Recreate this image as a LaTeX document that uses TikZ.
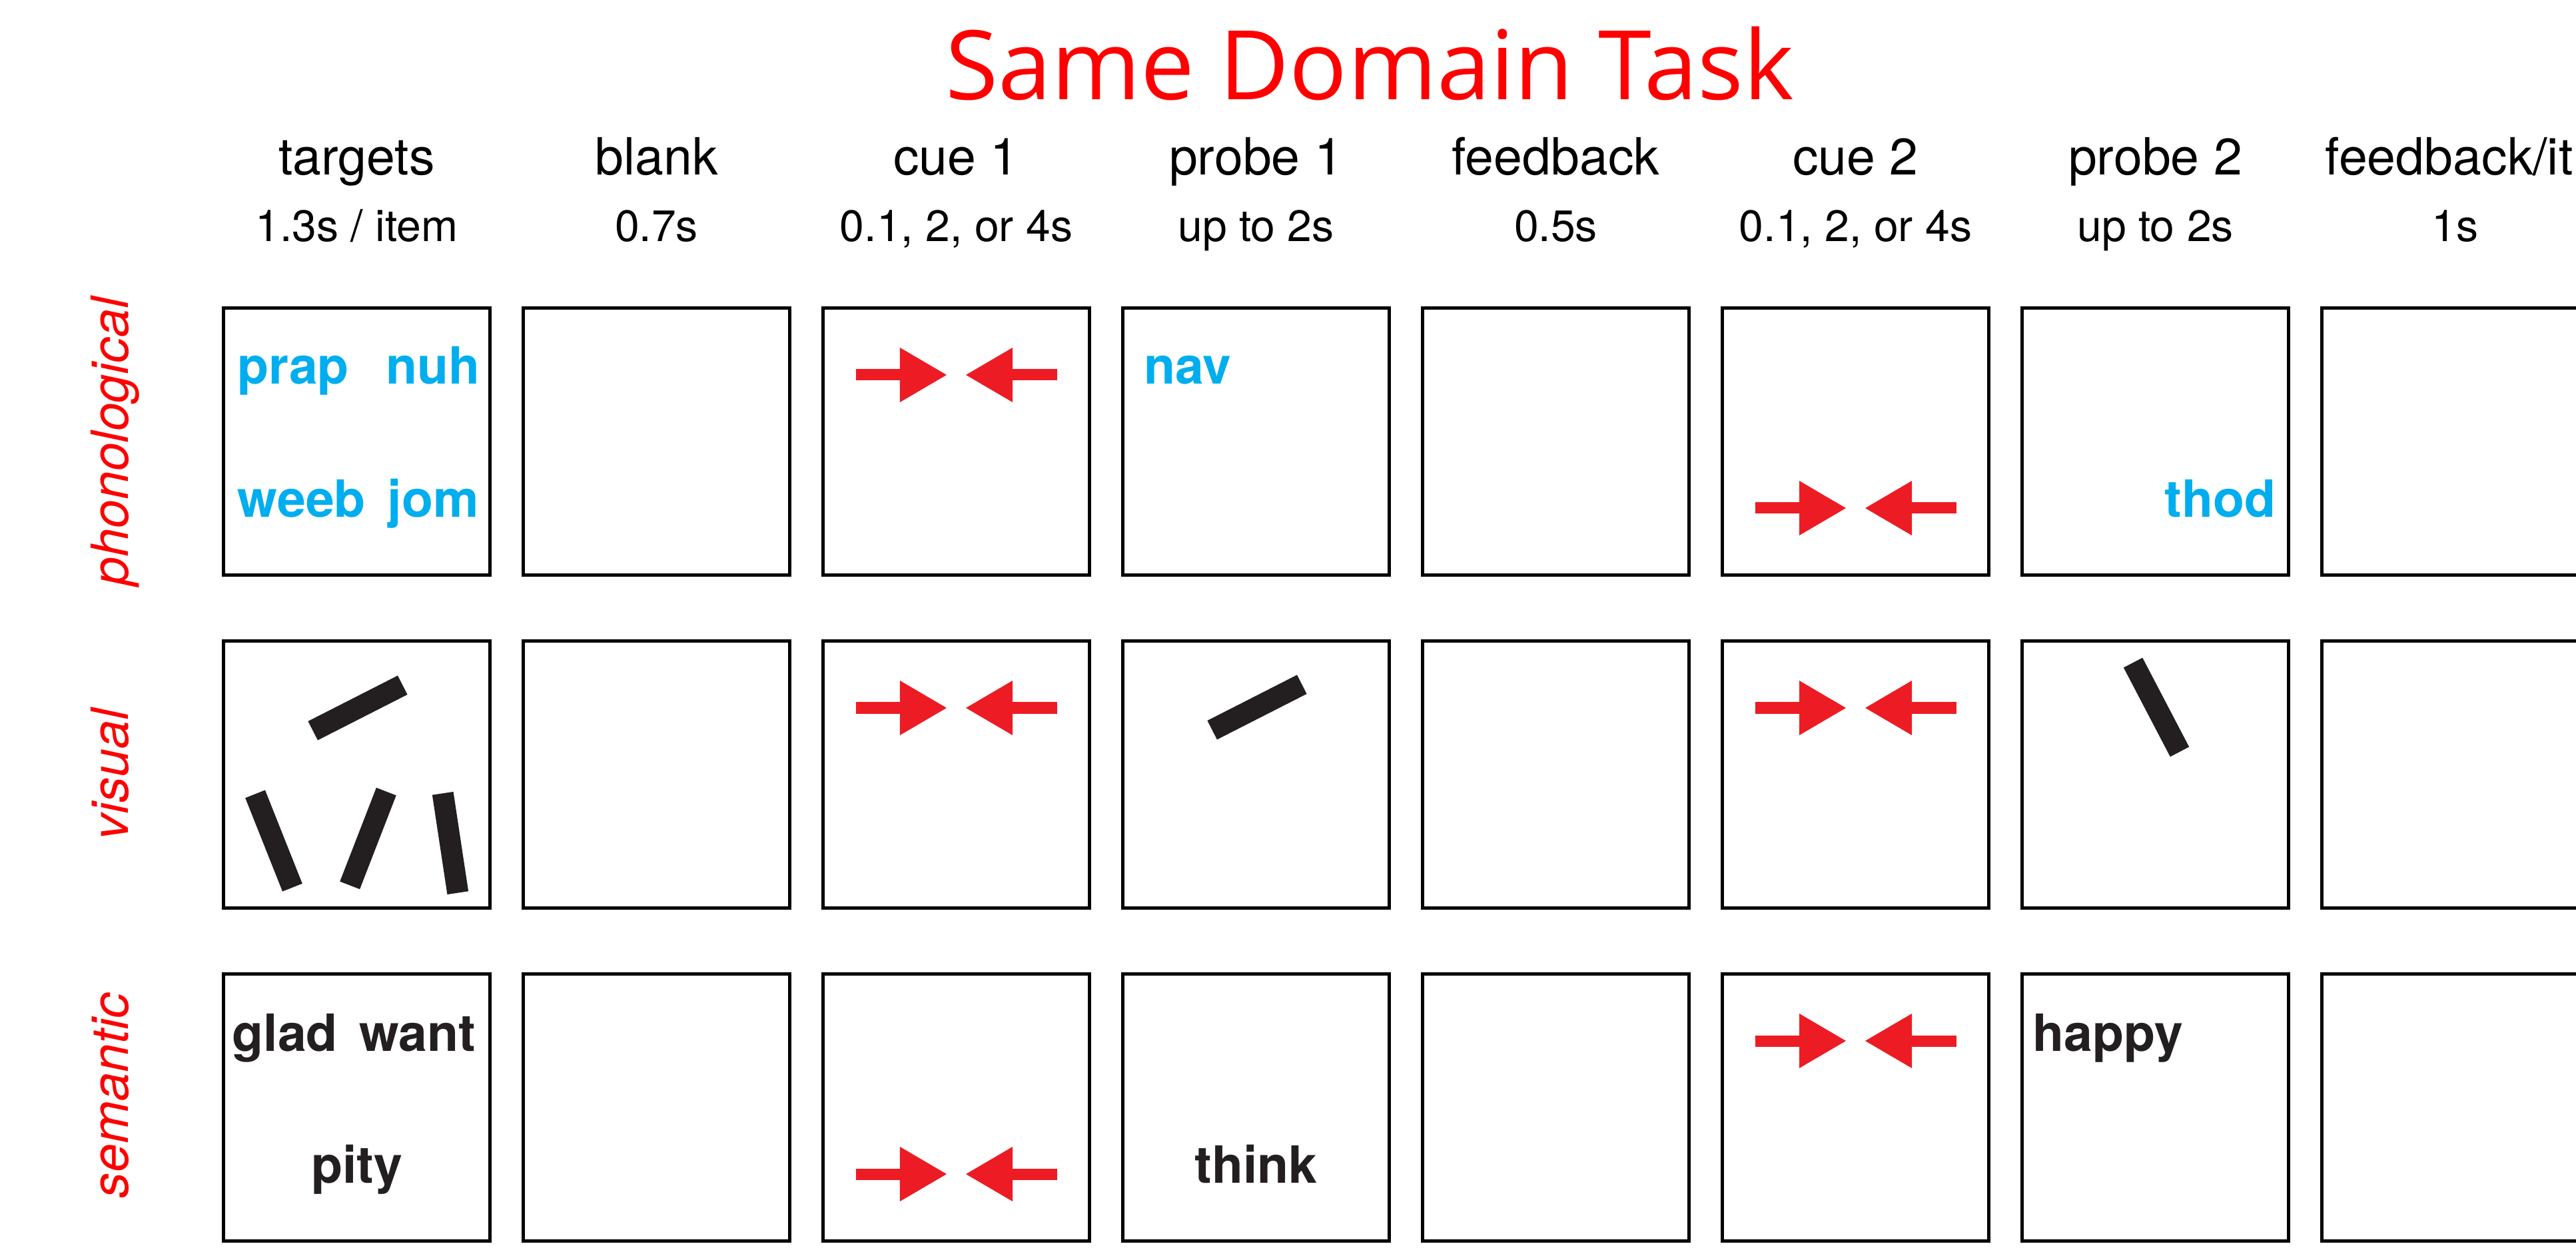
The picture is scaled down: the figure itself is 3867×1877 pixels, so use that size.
\documentclass[tikz,border=0pt]{standalone}
\usepackage{fontspec}
\setmainfont{TeX Gyre Heros}
\newfontfamily\titlefont{Open Sans}
\usetikzlibrary{calc,arrows.meta}
\definecolor{cuered}{RGB}{237,28,36}
\definecolor{labred}{RGB}{255,0,0}
\definecolor{nonword}{RGB}{0,174,239}
\definecolor{ink}{RGB}{35,31,32}

\begin{document}
\begin{tikzpicture}[x=0.01cm,y=-0.01cm,
  box/.style={draw, line width=0.05cm, minimum size=4cm, inner sep=0, outer sep=0},
  hd/.style={anchor=base, inner sep=0, font=\fontsize{21.9}{26}\selectfont},
  dur/.style={anchor=base, inner sep=0, font=\fontsize{18.8}{22}\selectfont},
  rowlab/.style={rotate=90, anchor=base, inner sep=0, text=labred, font=\itshape\fontsize{21.9}{26}\selectfont},
  wd/.style={inner sep=0, font=\bfseries\fontsize{21.9}{26}\selectfont},
  bar/.style={fill=ink, minimum width=1.51cm, minimum height=0.32cm, inner sep=0, outer sep=0},
  cuearr/.style={cuered, line width=0.17cm, -{Triangle[length=0.7cm, width=0.82cm, line width=0pt]}},
  cue/.pic={\draw[cuearr] (-151,0) -- (-14.5,0); \draw[cuearr] (151,0) -- (14.5,0);}]

\useasboundingbox (0,0) rectangle (3867,1877);
\clip (0,0) rectangle (3867,1877);

\node[anchor=base, inner sep=0, text=labred, font=\titlefont\fontsize{41}{48}\selectfont] (title) at (2056,150) {Same Domain Task};

% column heads
\foreach \col/\h/\d in {1/targets/{1.3s / item}, 2/blank/0.7s, 3/cue 1/{0.1, 2, or 4s}, 4/probe 1/up to 2s,
    5/feedback/0.5s, 6/cue 2/{0.1, 2, or 4s}, 7/probe 2/up to 2s}{
  \node[hd] (h\col) at ({85.5+450*\col},263) {\h};
  \node[dur] (d\col) at ({85.5+450*\col},363) {\d};
}
\node[hd, anchor=base west] (h8) at (3490,263) {feedback/it};
\node[dur] (d8) at (3685.5,363) {1s};

% screens
\foreach \row in {1,2,3}
  \foreach \col in {1,...,8}
    \node[box] (b\row\col) at ({85.5+450*\col},{163+500*\row}) {};

\foreach \row/\y/\l in {1/663/phonological, 2/1163/visual, 3/1645/semantic}
  \node[rowlab] (l\row) at (192,\y) {\l};

% phonological
\node[wd, text=nonword, anchor=base west] (prap) at ($(b11)+(-179.5,-86)$) {prap};
\node[wd, text=nonword, anchor=base east] (nuh) at ($(b11)+(185.5,-86)$) {nuh};
\node[wd, text=nonword, anchor=base west] (weeb) at ($(b11)+(-179.5,114)$) {weeb};
\node[wd, text=nonword, anchor=base east] (jom) at ($(b11)+(184,114)$) {jom};
\node[wd, text=nonword, anchor=base west] (nav) at ($(b14)+(-169,-86)$) {nav};
\node[wd, text=nonword, anchor=base east] (thod) at ($(b17)+(181.5,114)$) {thod};
\pic at ($(b13)+(0,-100)$) {cue};
\pic at ($(b16)+(0,100)$) {cue};

% visual
\node[bar, rotate=27] (v1) at ($(b21)+(1.5,-100)$) {};
\node[bar, rotate=111.7] (v2) at ($(b21)+(-124.5,99.5)$) {};
\node[bar, rotate=68.8] (v3) at ($(b21)+(17,96)$) {};
\node[bar, rotate=98.6] (v4) at ($(b21)+(140.5,103)$) {};
\node[bar, rotate=27] (p1) at ($(b24)+(1.5,-101)$) {};
\node[bar, rotate=117.6] (p2) at ($(b27)+(1.5,-101)$) {};
\pic at ($(b23)+(0,-100)$) {cue};
\pic at ($(b26)+(0,-100)$) {cue};

% semantic
\node[wd, text=ink, anchor=base west] (glad) at ($(b31)+(-187.5,-85)$) {glad};
\node[wd, text=ink, anchor=base east] (want) at ($(b31)+(179.5,-85)$) {want};
\node[wd, text=ink, anchor=base] (pity) at ($(b31)+(0,113)$) {pity};
\node[wd, text=ink, anchor=base] (think) at ($(b34)+(0,113)$) {think};
\node[wd, text=ink, anchor=base west] (happy) at ($(b37)+(-184.5,-85)$) {happy};
\pic at ($(b33)+(0,100)$) {cue};
\pic at ($(b36)+(0,-100)$) {cue};

\end{tikzpicture}
\end{document}
